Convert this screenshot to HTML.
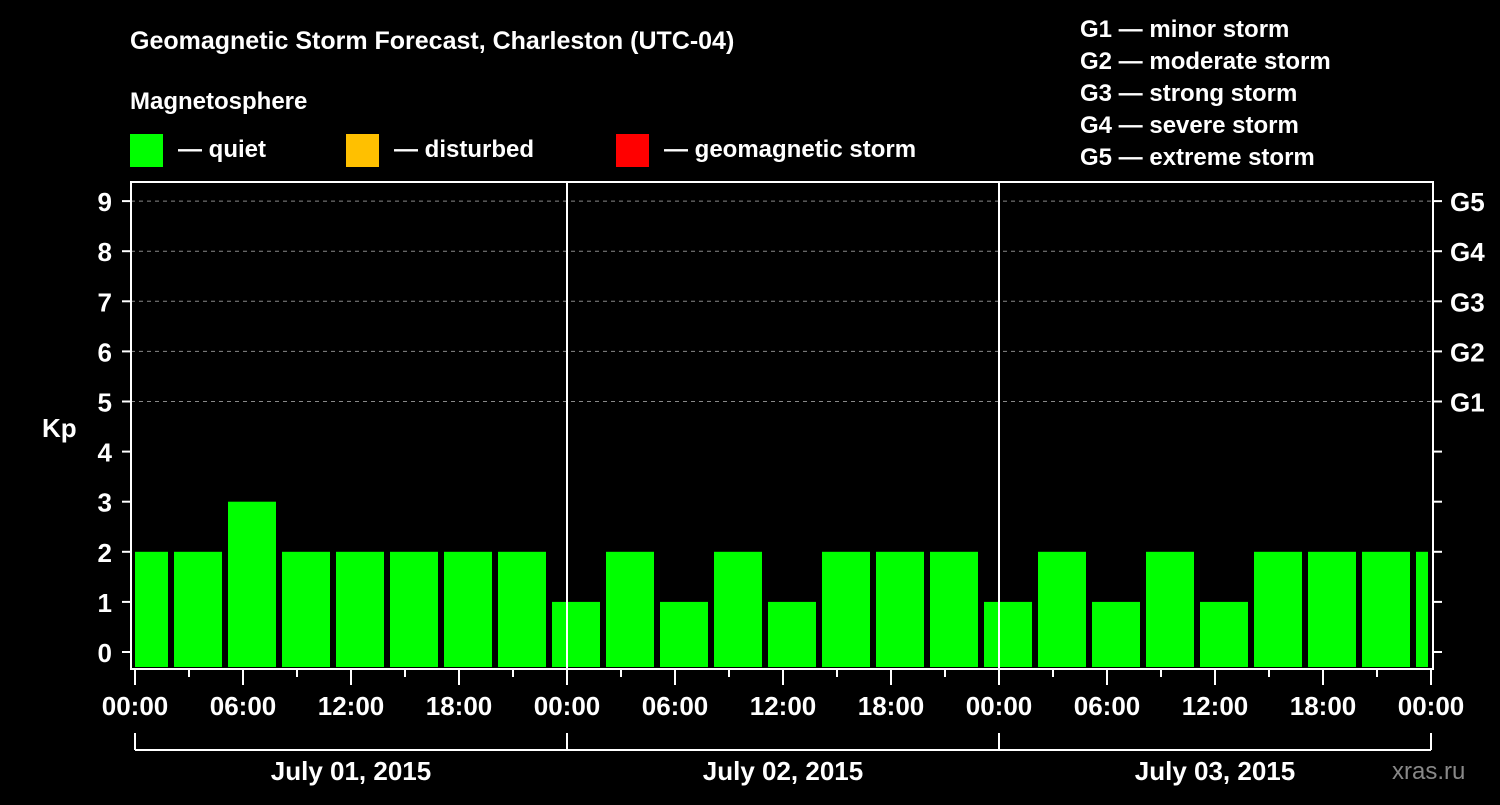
<!DOCTYPE html>
<html><head><meta charset="utf-8"><style>
body{margin:0;background:#000;width:1500px;height:800px;overflow:hidden}
svg text{font-family:"Liberation Sans",Arial,sans-serif;font-weight:bold;fill:#fff}
</style></head><body>
<svg id="chart" width="1500" height="800" xmlns="http://www.w3.org/2000/svg">
<text x="130" y="49" font-size="25">Geomagnetic Storm Forecast, Charleston (UTC-04)</text>
<text x="130" y="109" font-size="24">Magnetosphere</text>
<rect x="130" y="134" width="33" height="33" fill="#00ff00"/>
<text x="178" y="157" font-size="24">— quiet</text>
<rect x="346" y="134" width="33" height="33" fill="#ffc000"/>
<text x="394" y="157" font-size="24">— disturbed</text>
<rect x="616" y="134" width="33" height="33" fill="#ff0000"/>
<text x="664" y="157" font-size="24">— geomagnetic storm</text>
<g font-size="24">
<text x="1080" y="37">G1 — minor storm</text>
<text x="1080" y="69">G2 — moderate storm</text>
<text x="1080" y="101">G3 — strong storm</text>
<text x="1080" y="133">G4 — severe storm</text>
<text x="1080" y="165">G5 — extreme storm</text>
</g>
<text x="42" y="437" font-size="26">Kp</text>
<text x="1392" y="779" font-size="24" fill="#888" style="fill:#888;font-weight:normal">xras.ru</text>
<g id="grid"></g><g id="bars"></g><g id="axes"></g>
</svg>
<script>
const kpValues=[2,2,3,2,2,2,2,2,1,2,1,2,1,2,2,2,1,2,1,2,1,2,2,2,2];
const yTicks=[0,1,2,3,4,5,6,7,8,9];
const gLabels=["G1","G2","G3","G4","G5"];
const xLabels=["00:00","06:00","12:00","18:00","00:00","06:00","12:00","18:00","00:00","06:00","12:00","18:00","00:00"];
const dayLabels=["July 01, 2015","July 02, 2015","July 03, 2015"];
const NS="http://www.w3.org/2000/svg";
const L=131,R=1433,T=182,B=669,X0=135,X1=1431;
const y=v=>652-50.1*v;
const x=h=>X0+(X1-X0)*h/72;
function mk(p,tag,a){const e=document.createElementNS(NS,tag);for(const k in a)e.setAttribute(k,a[k]);document.getElementById(p).appendChild(e);return e;}
// grid
for(let v=5;v<=9;v++){const e=mk("grid","line",{x1:L,x2:R,y1:y(v),y2:y(v),stroke:"#888","stroke-dasharray":"4,4","stroke-width":1});

}
// bars
kpValues.forEach((v,i)=>{let a=x(-1+3*i)+3,b=x(2+3*i)-3;a=Math.max(a,L+4);b=Math.min(b,R-5);
const e=mk("bars","rect",{x:a,y:y(v),width:b-a,height:667-y(v),fill:"#00ff00"});

});
// axes
const fr=mk("axes","rect",{x:L,y:T,width:R-L,height:B-T,fill:"none",stroke:"#fff","stroke-width":2});


[1,2].forEach(d=>{const e=mk("axes","line",{x1:x(24*d),x2:x(24*d),y1:T,y2:B,stroke:"#fff","stroke-width":2});

});
yTicks.forEach(v=>{mk("axes","line",{x1:122,x2:L,y1:y(v),y2:y(v),stroke:"#fff","stroke-width":2});
mk("axes","line",{x1:R,x2:1442,y1:y(v),y2:y(v),stroke:"#fff","stroke-width":2});
const t=mk("axes","text",{x:112,y:y(v)+10,"font-size":26,"text-anchor":"end"});t.textContent=v;

});
gLabels.forEach((g,i)=>{const t=mk("axes","text",{x:1450,y:y(5+i)+10,"font-size":26});t.textContent=g;

});
for(let h=0;h<=72;h+=3){mk("axes","line",{x1:x(h),x2:x(h),y1:B,y2:h%6==0?685:677,stroke:"#fff","stroke-width":2});}
xLabels.forEach((s,i)=>{const t=mk("axes","text",{x:x(6*i),y:715,"font-size":26,"text-anchor":"middle"});t.textContent=s;

});
mk("axes","line",{x1:X0,x2:X1,y1:750,y2:750,stroke:"#fff","stroke-width":2});
for(let d=0;d<=3;d++)mk("axes","line",{x1:x(24*d),x2:x(24*d),y1:733,y2:750,stroke:"#fff","stroke-width":2});
dayLabels.forEach((s,i)=>{const t=mk("axes","text",{x:x(24*i+12),y:780,"font-size":26,"text-anchor":"middle"});t.textContent=s;

});
</script>
</body></html>
